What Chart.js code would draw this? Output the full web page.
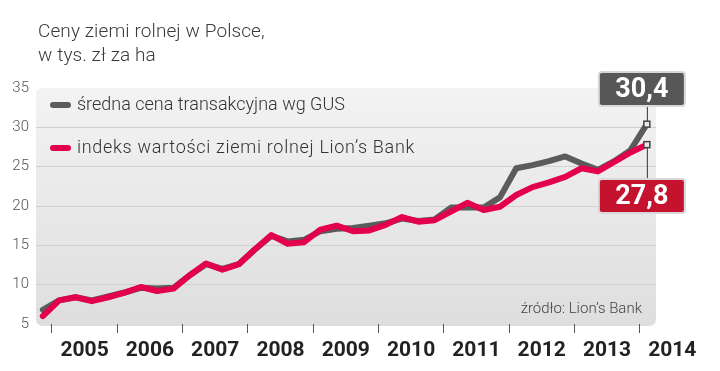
<!DOCTYPE html>
<html>
<head>
<meta charset="utf-8">
<script src="https://cdn.jsdelivr.net/npm/chart.js@4/dist/chart.umd.min.js"></script>
<style>
  html, body { margin: 0; padding: 0; background: #ffffff; }
  #wrap { position: relative; width: 720px; height: 371px; overflow: hidden; }
  #title { position: absolute; left: 38px; top: 19px; font-family: Roboto, "Open Sans", sans-serif; font-size: 19px; line-height: 24px; color: #3a3a3a; font-weight: 300; letter-spacing: 0.1px; }
  canvas { position: absolute; left: 0; top: 0; }
</style>
</head>
<body>
<div id="wrap">
  <canvas id="c" width="720" height="371"></canvas>
  <div id="title">Ceny ziemi rolnej w Polsce,<br>w tys. zł za ha</div>
</div>
<script>
// ---- data ----
const quarters = [
  "2004 Q4",
  "2005 Q1","2005 Q2","2005 Q3","2005 Q4",
  "2006 Q1","2006 Q2","2006 Q3","2006 Q4",
  "2007 Q1","2007 Q2","2007 Q3","2007 Q4",
  "2008 Q1","2008 Q2","2008 Q3","2008 Q4",
  "2009 Q1","2009 Q2","2009 Q3","2009 Q4",
  "2010 Q1","2010 Q2","2010 Q3","2010 Q4",
  "2011 Q1","2011 Q2","2011 Q3","2011 Q4",
  "2012 Q1","2012 Q2","2012 Q3","2012 Q4",
  "2013 Q1","2013 Q2","2013 Q3","2013 Q4",
  "2014 Q1"
];
const gusValues = [
  6.8,
  8.0, 8.4, 8.0, 8.5,
  9.0, 9.6, 9.5, 9.6,
  11.2, 12.6, 12.0, 12.6,
  14.5, 16.2, 15.5, 15.7,
  16.8, 17.1, 17.2, 17.5,
  17.8, 18.4, 18.1, 18.3,
  19.8, 19.8, 19.8, 21.1,
  24.8, 25.2, 25.7, 26.3,
  25.4, 24.6, 25.7, 27.1,
  30.4
];
const lionsValues = [
  6.0,
  8.0, 8.4, 7.9, 8.4,
  9.0, 9.7, 9.2, 9.5,
  11.2, 12.7, 11.9, 12.6,
  14.5, 16.3, 15.2, 15.4,
  17.0, 17.5, 16.8, 16.9,
  17.6, 18.6, 18.0, 18.2,
  19.3, 20.4, 19.5, 19.9,
  21.4, 22.4, 23.0, 23.7,
  24.8, 24.4, 25.6, 26.8,
  27.8
];
const yearTicks = [2005, 2006, 2007, 2008, 2009, 2010, 2011, 2012, 2013, 2014];
const yTicks = [5, 10, 15, 20, 25, 30, 35];
const gusLabel = "średna cena transakcyjna wg GUS";
const lionsLabel = "indeks wartości ziemi rolnej Lion’s Bank";
const gusCallout = "30,4";
const lionsCallout = "27,8";
const sourceText = "źródło: Lion’s Bank";

// ---- colours ----
const GRAY = "#5b5b5b";
const RED = "#e2004f";
const RED_BOX = "#c4122f";

function qx(label) {
  const parts = label.split(" Q");
  return parseInt(parts[0], 10) + (parseInt(parts[1], 10) - 1) / 4 + 0.11;
}
const gusPoints = quarters.map((q, i) => ({ x: qx(q), y: gusValues[i] }));
const lionsPoints = quarters.map((q, i) => ({ x: qx(q), y: lionsValues[i] }));

function roundRect(ctx, x, y, w, h, r) {
  ctx.beginPath();
  ctx.moveTo(x + r, y);
  ctx.lineTo(x + w - r, y);
  ctx.quadraticCurveTo(x + w, y, x + w, y + r);
  ctx.lineTo(x + w, y + h - r);
  ctx.quadraticCurveTo(x + w, y + h, x + w - r, y + h);
  ctx.lineTo(x + r, y + h);
  ctx.quadraticCurveTo(x, y + h, x, y + h - r);
  ctx.lineTo(x, y + r);
  ctx.quadraticCurveTo(x, y, x + r, y);
  ctx.closePath();
}

const bgPlugin = {
  id: "bgPlugin",
  beforeDraw(chart) {
    const { ctx, chartArea: a } = chart;
    ctx.save();
    const g = ctx.createLinearGradient(0, a.top, 0, a.bottom);
    g.addColorStop(0, "#f3f3f3");
    g.addColorStop(1, "#dedede");
    ctx.fillStyle = g;
    roundRect(ctx, a.left, a.top, a.right - a.left, a.bottom - a.top + 2, 7);
    ctx.fill();
    ctx.restore();
  }
};

const overlayPlugin = {
  id: "overlayPlugin",
  afterDatasetsDraw(chart) {
    const { ctx, chartArea: a } = chart;
    ctx.save();
    // legend
    const legend = [[GRAY, gusLabel, a.top + 17, "0px"], [RED, lionsLabel, a.top + 60, "0.7px"]];
    legend.forEach(([col, txt, y, ls]) => {
      ctx.strokeStyle = col;
      ctx.lineWidth = 6;
      ctx.lineCap = "round";
      ctx.beginPath();
      ctx.moveTo(a.left + 17, y);
      ctx.lineTo(a.left + 32, y);
      ctx.stroke();
      ctx.fillStyle = "#333";
      ctx.font = "300 18px Roboto, 'Open Sans', sans-serif";
      ctx.letterSpacing = ls;
      ctx.textBaseline = "middle";
      ctx.textAlign = "left";
      ctx.fillText(txt, a.left + 41, y);
    });
    ctx.letterSpacing = "0px";
    // source
    ctx.fillStyle = "#444";
    ctx.font = "300 15px Roboto, 'Open Sans', sans-serif";
    ctx.textAlign = "right";
    ctx.textBaseline = "middle";
    ctx.fillText(sourceText, a.right - 14, a.bottom - 15);

    // callouts
    const gm = chart.getDatasetMeta(1).data;
    const rm = chart.getDatasetMeta(0).data;
    const gp = gm[gm.length - 1];
    const rp = rm[rm.length - 1];
    const boxW = 86, boxH = 34;
    const items = [
      { p: gp, fill: "#575757", text: gusCallout, boxTop: 72 },
      { p: rp, fill: RED_BOX, text: lionsCallout, boxTop: 179 }
    ];
    items.forEach(it => {
      const cx = it.p.x;
      const bx = cx - 48;
      ctx.strokeStyle = "#333";
      ctx.lineWidth = 1;
      ctx.beginPath();
      if (it.boxTop < it.p.y) {
        ctx.moveTo(cx + 0.5, it.boxTop + boxH);
        ctx.lineTo(cx + 0.5, it.p.y);
      } else {
        ctx.moveTo(cx + 0.5, it.p.y);
        ctx.lineTo(cx + 0.5, it.boxTop);
      }
      ctx.stroke();
      ctx.fillStyle = "#e8e8e8";
      ctx.strokeStyle = "#444";
      ctx.lineWidth = 1.5;
      ctx.fillRect(cx - 3, it.p.y - 3, 6, 6);
      ctx.strokeRect(cx - 3, it.p.y - 3, 6, 6);
      ctx.fillStyle = it.fill;
      roundRect(ctx, bx, it.boxTop, boxW, boxH, 3);
      ctx.fill();
      ctx.strokeStyle = "#d8d8d8";
      ctx.lineWidth = 2;
      ctx.stroke();
      ctx.fillStyle = "#ffffff";
      ctx.font = "bold 27px 'Liberation Sans Narrow', Roboto, sans-serif";
      ctx.textAlign = "center";
      ctx.textBaseline = "middle";
      ctx.fillText(it.text, bx + boxW / 2, it.boxTop + boxH / 2 + 1);
    });
    ctx.restore();
  }
};

new Chart(document.getElementById("c"), {
  type: "line",
  data: {
    datasets: [
      { label: lionsLabel, data: lionsPoints, borderColor: RED, borderWidth: 6, pointRadius: 0, tension: 0, order: 0, borderJoinStyle: "round", borderCapStyle: "round" },
      { label: gusLabel, data: gusPoints, borderColor: GRAY, borderWidth: 6, pointRadius: 0, tension: 0, order: 1, borderJoinStyle: "round", borderCapStyle: "round" }
    ]
  },
  options: {
    responsive: false,
    devicePixelRatio: 1,
    animation: false,
    layout: { padding: { top: 88, right: 64, left: 0, bottom: 0 } },
    plugins: { legend: { display: false }, tooltip: { enabled: false }, title: { display: false } },
    scales: {
      x: {
        type: "linear",
        min: 2004.755,
        max: 2014.25,
        afterBuildTicks(scale) { scale.ticks = yearTicks.map(v => ({ value: v })); },
        afterFit(scale) { scale.height = 47; },
        border: { display: false },
        grid: { drawOnChartArea: false, drawTicks: true, tickLength: 9, tickColor: "#555", lineWidth: 1 },
        ticks: {
          autoSkip: false, maxRotation: 0, minRotation: 0,
          labelOffset: 32.6, padding: 5,
          color: "#222",
          font: { family: "Roboto, 'Open Sans', sans-serif", size: 21, weight: "bold" },
          callback: v => String(v)
        }
      },
      y: {
        type: "linear",
        min: 5,
        max: 35,
        afterBuildTicks(scale) { scale.ticks = yTicks.map(v => ({ value: v })); },
        afterFit(scale) { scale.width = 36; },
        border: { display: false },
        grid: {
          drawTicks: false,
          color: ctx => (ctx.tick && (ctx.tick.value === 5 || ctx.tick.value === 35)) ? "rgba(0,0,0,0)" : "#d0d0d0",
          lineWidth: 1
        },
        ticks: {
          padding: 7,
          color: "#555",
          font: { family: "Roboto, 'Open Sans', sans-serif", size: 15, weight: "300" }
        }
      }
    }
  },
  plugins: [bgPlugin, overlayPlugin]
});
</script>
</body>
</html>
